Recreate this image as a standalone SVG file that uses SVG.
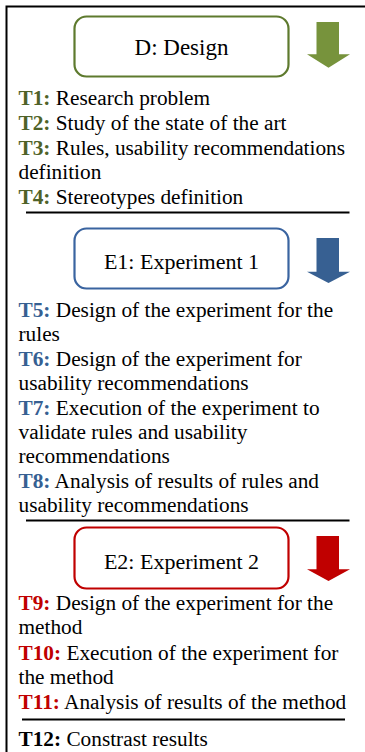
<svg xmlns="http://www.w3.org/2000/svg" width="365" height="752" viewBox="0 0 365 752">
<style>
text, tspan{font-family:'Liberation Serif','Times New Roman',Times,'DejaVu Serif',serif}
.t{font-size:21.3px}
.lbl{font-size:22px;text-anchor:middle}
.b{font-weight:bold}
.g{fill:#4F6228}.bl{fill:#366092}.r{fill:#C00000}
.box{fill:#fff;stroke-width:2.2}
.sep{stroke:#000;stroke-width:2;fill:none}
</style>
<rect width="365" height="752" fill="#fff"/>
<path d="M6.5 752 V6.5 H365" fill="none" stroke="#000" stroke-width="2"/>
<g font-family="Liberation Serif, Times New Roman, serif" fill="#000">
<g id="design">
<rect class="box" x="74.5" y="16.5" width="214" height="60" rx="12" stroke="#5E7A2E"/>
<text class="lbl" x="181.5" y="55" style="font-size:23px">D: Design</text>
<path d="M316.5 22 H339 V54.3 H350 L328.5 67.7 L307 54.3 H316.5 Z" fill="#77933C"/>
</g>
<g id="design-tasks">
<text class="t" x="18.5" y="105"><tspan class="b g">T1:</tspan> Research problem</text>
<text class="t" x="18.5" y="130"><tspan class="b g">T2:</tspan> Study of the state of the art</text>
<text class="t" x="18.5" y="155"><tspan class="b g">T3:</tspan> Rules, usability recommendations</text>
<text class="t" x="18.5" y="179">definition</text>
<text class="t" x="18.5" y="203.5"><tspan class="b g">T4:</tspan> Stereotypes definition</text>
</g>

<g id="experiment1">
<rect class="box" x="74.5" y="228.5" width="214" height="60" rx="12" stroke="#3A64A0"/>
<text class="lbl" x="181.5" y="269">E1: Experiment 1</text>
<path d="M316.5 238 H339 V271.7 H350 L328.5 283 L307 271.7 H316.5 Z" fill="#376092"/>
</g>
<g id="experiment1-tasks">
<text class="t" x="18.5" y="316.7"><tspan class="b bl">T5:</tspan> Design of the experiment for the</text>
<text class="t" x="18.5" y="340.7">rules</text>
<text class="t" x="18.5" y="365.7"><tspan class="b bl">T6:</tspan> Design of the experiment for</text>
<text class="t" x="18.5" y="390">usability recommendations</text>
<text class="t" x="18.5" y="415"><tspan class="b bl">T7:</tspan> Execution of the experiment to</text>
<text class="t" x="18.5" y="439">validate rules and usability</text>
<text class="t" x="18.5" y="463.3">recommendations</text>
<text class="t" x="18.5" y="488.3"><tspan class="b bl">T8:</tspan> Analysis of results of rules and</text>
<text class="t" x="18.5" y="512.3">usability recommendations</text>
</g>

<g id="experiment2">
<rect class="box" x="74.5" y="527.5" width="214" height="61" rx="12" stroke="#C00000"/>
<text class="lbl" x="181.5" y="569">E2: Experiment 2</text>
<path d="M316.5 536 H339 V569.3 H350 L328.5 581 L307 569.3 H316.5 Z" fill="#C00000"/>
</g>
<g id="experiment2-tasks">
<text class="t" x="18.5" y="610"><tspan class="b r">T9:</tspan> Design of the experiment for the</text>
<text class="t" x="18.5" y="634.3">method</text>
<text class="t" x="18.5" y="659.5"><tspan class="b r">T10:</tspan> Execution of the experiment for</text>
<text class="t" x="18.5" y="684">the method</text>
<text class="t" x="18.5" y="709"><tspan class="b r">T11:</tspan> Analysis of results of the method</text>
</g>

<g id="final">
<text class="t" x="18.5" y="745.5"><tspan class="b">T12:</tspan> Constrast results</text>
</g>
</g>
<g id="connectors">
<line class="sep" x1="26" y1="212.5" x2="349.5" y2="212.5"/>
<line class="sep" x1="26" y1="520.5" x2="349.5" y2="520.5"/>
<line class="sep" x1="22" y1="719.5" x2="345" y2="719.5"/>
</g>
</svg>
